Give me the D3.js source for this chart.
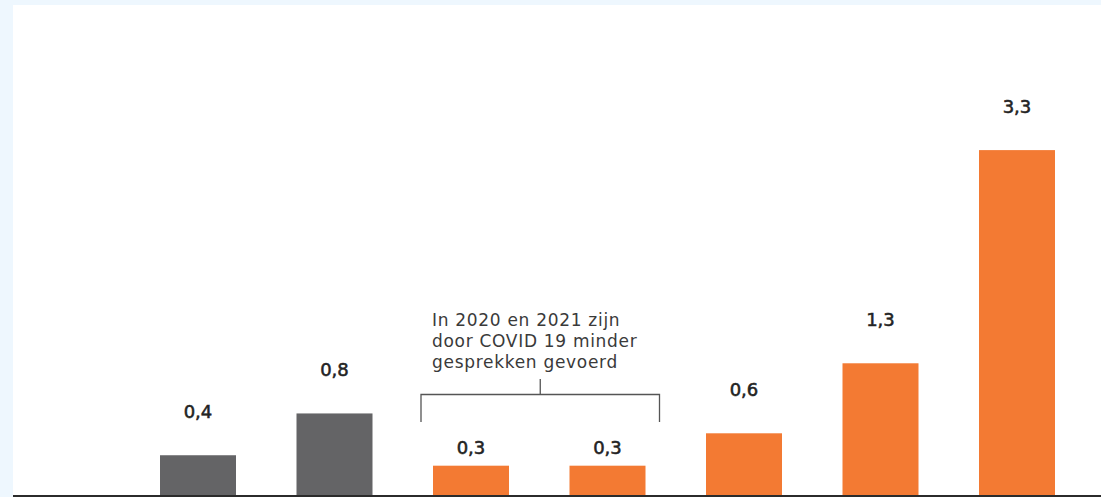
<!DOCTYPE html>
<html><head><meta charset="utf-8">
<script src="https://cdn.jsdelivr.net/npm/d3@7"></script>
<style>
html,body{margin:0;padding:0;background:#eef7fe;}
svg{display:block;}
</style></head>
<body>
<svg id="c" width="1101" height="497"></svg>
<script>
const categories = ["2018","2019","2020","2021","2022","2023","2024"];
const values = [0.39, 0.79, 0.29, 0.29, 0.60, 1.27, 3.31];
const labels = ["0,4","0,8","0,3","0,3","0,6","1,3","3,3"];
const groups = ["oud","oud","nieuw","nieuw","nieuw","nieuw","nieuw"];
const annotationLines = ["In 2020 en 2021 zijn","door COVID 19 minder","gesprekken gevoerd"];
const annotatedCats = ["2020","2021"];

const W = 1101, H = 497;
const svg = d3.select("#c");
svg.append("rect").attr("x",0).attr("y",0).attr("width",W).attr("height",H).attr("fill","#eef7fe");
svg.append("rect").attr("x",13).attr("y",5).attr("width",W-13).attr("height",H-5).attr("fill","#ffffff");

const baseY = 496;
const x = d3.scaleBand().domain(categories).range([129.75, 1085.25]).paddingInner(60.5/136.5).paddingOuter(60.5/136.5/2);
const y = d3.scaleLinear().domain([0, 4]).range([baseY, baseY - 4*104.5]);
const color = d3.scaleOrdinal().domain(["oud","nieuw"]).range(["#646466","#f37a33"]);

const data = categories.map((c,i)=>({c, v:values[i], l:labels[i], g:groups[i]}));

svg.selectAll("rect.bar").data(data).join("rect").attr("class","bar")
  .attr("x", d=>x(d.c)).attr("width", x.bandwidth())
  .attr("y", d=>y(d.v)).attr("height", d=>y(0)-y(d.v))
  .attr("fill", d=>color(d.g));

svg.selectAll("text.val").data(data).join("text").attr("class","val")
  .attr("x", d=>x(d.c)+x.bandwidth()/2)
  .attr("y", d=>y(d.v) - (annotatedCats.includes(d.c) ? 12 : 37.5))
  .attr("text-anchor","middle")
  .attr("font-family","'DejaVu Sans', sans-serif").attr("font-size",18)
  .attr("fill","#232323").attr("stroke","#232323").attr("stroke-width",0.55)
  .text(d=>d.l);

// axis baseline
const axis = d3.axisBottom(x).tickSize(0).tickFormat("");
const ag = svg.append("g").attr("transform",`translate(0,${baseY})`).call(axis);
ag.select(".domain").remove();
svg.append("line").attr("x1",13).attr("x2",W).attr("y1",baseY).attr("y2",baseY).attr("stroke","#2b2b2b").attr("stroke-width",2);

// bracket annotation
const bx1 = x(annotatedCats[0]) - 12, bx2 = x(annotatedCats[1]) + x.bandwidth() + 14;
const by = 394.5, bBottom = 422, bTop = 379;
const bmid = (bx1+bx2)/2;
const bp = d3.path();
bp.moveTo(bx1, bBottom); bp.lineTo(bx1, by); bp.lineTo(bx2, by); bp.lineTo(bx2, bBottom);
bp.moveTo(bmid, by); bp.lineTo(bmid, bTop);
svg.append("path").attr("d", bp.toString()).attr("fill","none").attr("stroke","#555").attr("stroke-width",1.3);

const at = svg.append("text").attr("font-family","'DejaVu Sans', sans-serif").attr("font-size",17).attr("letter-spacing",0.7).attr("fill","#3a3a3a");
annotationLines.forEach((t,i)=>{
  at.append("tspan").attr("x", 432).attr("y", 326 + i*21).text(t);
});
</script>
</body></html>
